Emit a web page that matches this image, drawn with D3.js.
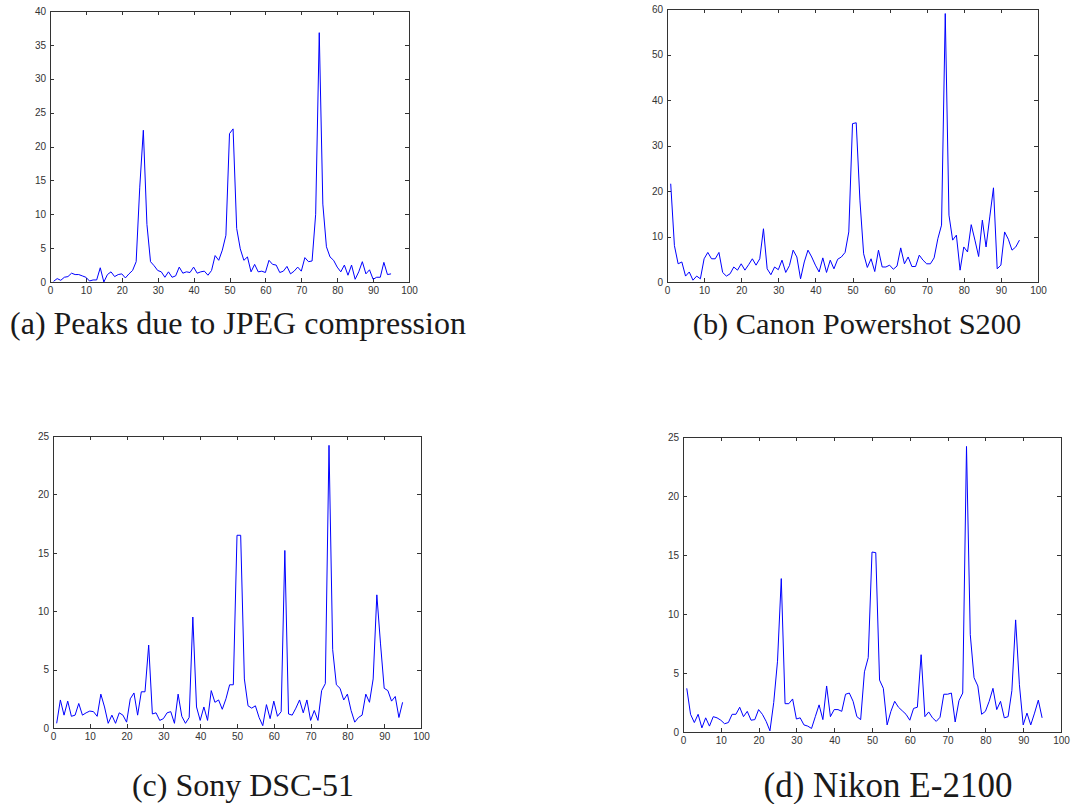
<!DOCTYPE html>
<html>
<head>
<meta charset="utf-8">
<script src="https://cdn.jsdelivr.net/npm/d3@7"></script>
<style>
  body { margin: 0; background: #fff; }
  svg { display: block; }
</style>
</head>
<body>
<div id="chart"></div>
<script>
// values, index 1..95
const jpegPeaks = [0.1,0.5,0.25,0.7,0.8,1.3,1.1,1.1,0.9,0.7,
  0.15,0.3,0.3,2.1,0.0,1.1,1.5,0.8,1.1,1.2,
  0.6,1.2,1.7,3.0,14,22.4,8.5,3.0,2.4,1.7,
  1.5,0.7,1.5,0.7,0.9,2.2,1.3,1.5,1.4,2.2,
  1.3,1.5,1.6,1.0,1.7,3.9,3.2,4.7,6.9,21.9,
  22.6,7.9,4.9,3.2,3.7,1.5,2.6,1.5,1.6,1.4,
  3.2,2.6,2.5,1.4,1.6,2.3,1.2,1.6,2.2,1.6,
  3.6,3.0,3.1,10,36.8,11.5,5.2,3.7,3.2,2.2,
  1.5,2.5,1.0,2.5,0.4,1.5,3.0,1.2,1.8,0.4,
  0.7,0.7,2.9,1.1,1.2];

const canonS200 = [21.6,8.0,4.0,4.4,1.3,2.2,0.4,1.3,0.7,5.1,
  6.5,5.1,5.1,6.5,2.1,1.3,1.8,3.3,2.6,4.0,
  2.6,3.8,5.1,3.7,5.1,11.7,2.9,1.6,3.3,2.7,
  4.8,2.1,3.6,7.0,5.5,0.7,4.4,7.0,5.5,3.7,
  2.2,5.3,2.1,4.8,2.9,5.0,5.5,6.5,11,34.8,
  35.0,18,6.2,3.2,5.1,2.3,7.0,3.3,3.3,3.7,
  2.8,3.5,7.5,4.0,5.5,3.4,3.4,5.9,4.8,4.0,
  4.0,5.3,9.5,12.5,59.0,14.7,9.2,10.3,2.6,7.7,
  6.6,12.6,9.2,5.6,13.6,7.7,14.3,20.7,2.9,3.7,
  11,9.4,7.0,7.7,9.2];

const sonyDsc51 = [0.4,2.4,1.1,2.3,1.0,1.1,2.1,1.1,1.3,1.45,
  1.4,1.0,2.9,1.8,0.4,1.1,0.4,1.3,1.1,0.5,
  2.5,3.0,1.1,3.1,3.1,7.1,1.2,1.3,0.65,0.8,
  1.3,1.4,0.4,2.9,1.0,0.4,0.9,9.5,1.8,0.65,
  1.8,0.65,3.2,2.2,2.4,1.6,2.5,3.7,3.7,16.5,
  16.5,4.2,1.9,1.7,1.9,0.9,0.2,2.0,0.8,2.3,
  1.0,1.4,15.2,1.2,1.1,1.7,2.4,1.3,2.4,0.65,
  1.5,0.65,3.2,3.8,24.2,6.7,3.7,3.4,2.4,2.9,
  1.5,0.5,0.9,1.1,2.9,2.2,4.2,11.4,7.2,3.4,
  3.2,2.3,2.7,0.9,2.2];

const nikonE2100 = [3.7,1.5,0.8,1.5,0.35,1.2,0.5,1.3,1.2,1.0,
  0.7,0.8,1.5,1.5,2.1,1.3,1.75,1.0,1.05,1.9,
  1.5,0.9,0.1,2.5,6.0,13.0,2.4,2.4,2.8,1.1,
  1.2,0.6,0.5,0.3,1.3,2.3,1.05,3.9,1.3,1.9,
  1.9,1.75,3.2,3.3,2.6,1.3,1.05,5.1,6.3,15.25,
  15.2,4.4,3.7,0.6,1.75,2.6,2.1,1.8,1.5,1.0,
  2.0,2.1,6.55,1.3,1.7,1.2,0.9,1.25,3.2,3.2,
  3.3,0.85,2.65,3.3,24.2,8.25,4.6,3.9,1.5,1.75,
  2.6,3.7,1.9,2.6,1.2,1.3,3.5,9.5,4.0,0.6,
  1.6,0.6,1.6,2.7,1.2];

const xTicks = [0,10,20,30,40,50,60,70,80,90,100];
const yTicksA = [0,5,10,15,20,25,30,35,40];
const yTicksB = [0,10,20,30,40,50,60];
const yTicksCD = [0,5,10,15,20,25];

const captions = [
  "(a) Peaks due to JPEG compression",
  "(b) Canon Powershot S200",
  "(c) Sony DSC-51",
  "(d) Nikon E-2100"
];

let WIDTH = 1072,
    HEIGHT = 804;

let svg = d3.select("#chart")
    .append("svg")
    .attr("width", WIDTH)
    .attr("height", HEIGHT);

// layout of each subplot (left, top, right, bottom), caption anchor and size
const panels = [
  { values: jpegPeaks,  yTicks: yTicksA,  box: [50, 11, 409, 282],   cap: [238, 334], capSize: 32 },
  { values: canonS200,  yTicks: yTicksB,  box: [667, 9, 1038, 282],  cap: [857, 334], capSize: 30.4 },
  { values: sonyDsc51,  yTicks: yTicksCD, box: [53, 436, 421, 728],  cap: [243, 796], capSize: 32 },
  { values: nikonE2100, yTicks: yTicksCD, box: [683, 437, 1061, 732], cap: [888, 797], capSize: 35 }
];

panels.forEach((p, i) => {
  const [l, t, r, b] = p.box;
  const x = d3.scaleLinear().domain([0, 100]).range([l, r]);
  const y = d3.scaleLinear().domain([0, d3.max(p.yTicks)]).range([b, t]);

  const g = svg.append("g");

  const styleAxis = sel => {
    sel.select(".domain").remove();
    sel.selectAll("line").attr("stroke", "#333").attr("shape-rendering", "crispEdges");
    sel.selectAll("text")
      .attr("fill", "#333")
      .style("font-family", "'Liberation Sans', Arial, sans-serif")
      .style("font-size", "10px");
  };

  g.append("g")
    .attr("transform", `translate(0,${b})`)
    .call(d3.axisBottom(x).tickValues(xTicks).tickSize(-4).tickPadding(5))
    .call(styleAxis);
  g.append("g")
    .attr("transform", `translate(0,${t})`)
    .call(d3.axisTop(x).tickValues(xTicks).tickSize(-4).tickFormat(""))
    .call(styleAxis);
  g.append("g")
    .attr("transform", `translate(${l},0)`)
    .call(d3.axisLeft(y).tickValues(p.yTicks).tickSize(-4).tickPadding(4))
    .call(styleAxis);
  g.append("g")
    .attr("transform", `translate(${r},0)`)
    .call(d3.axisRight(y).tickValues(p.yTicks).tickSize(-4).tickFormat(""))
    .call(styleAxis);

  g.append("rect")
    .attr("x", l + 0.5).attr("y", t + 0.5)
    .attr("width", r - l).attr("height", b - t)
    .attr("fill", "none")
    .attr("stroke", "#333")
    .attr("shape-rendering", "crispEdges");

  const line = d3.line()
    .x((d, j) => x(j + 1))
    .y(d => y(d));

  g.append("path")
    .datum(p.values)
    .attr("d", line)
    .attr("fill", "none")
    .attr("stroke", "#0000ff")
    .attr("stroke-width", 1);

  svg.append("text")
    .attr("x", p.cap[0])
    .attr("y", p.cap[1])
    .attr("text-anchor", "middle")
    .style("font-family", "'Liberation Serif', 'Times New Roman', serif")
    .style("font-size", p.capSize + "px")
    .attr("fill", "#1a1a1a")
    .text(captions[i]);
});
</script>
</body>
</html>
